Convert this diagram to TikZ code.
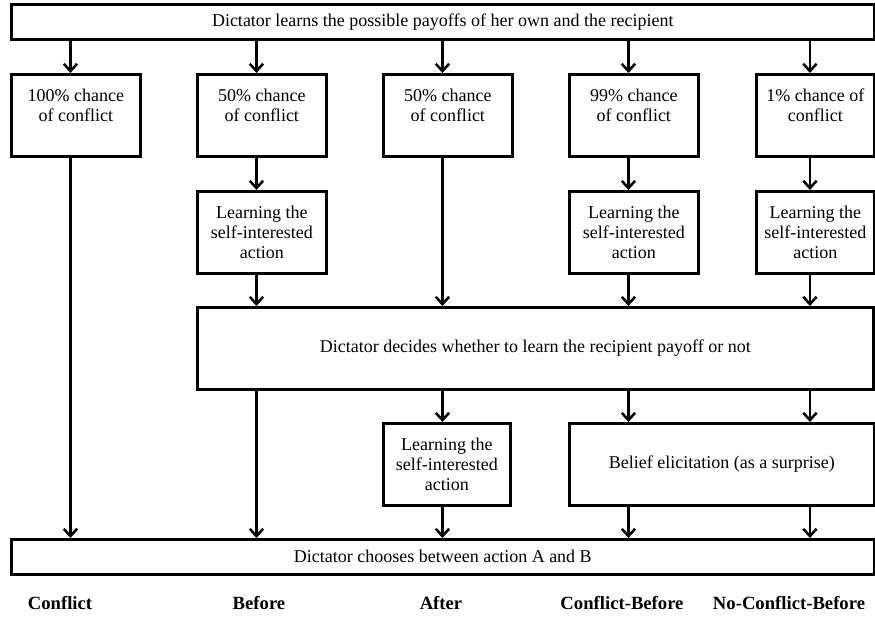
\documentclass[tikz,border=0pt]{standalone}
\usepackage{fontspec}
\setmainfont{Liberation Serif}
\usetikzlibrary{arrows.meta,positioning}

\begin{document}
\begin{tikzpicture}[
    x=0.75pt, y=-0.75pt,
    box/.style={
        draw,
        line width=1.9pt,
        anchor=north west,
        minimum width=96.75pt,
        minimum height=61.5pt,
        inner sep=1pt,
        align=center,
        font=\fontsize{13.5}{15}\selectfont
    },
    wide/.style={box, minimum height=26.25pt},
    flow/.style={line width=1.9pt, -{Straight Barb[length=5.5pt,width=10pt,line width=1.9pt]},
        transform canvas={xshift=-4pt}},
    treatment/.style={font=\fontsize{14}{16}\selectfont\bfseries}
]
    \useasboundingbox (0,0) rectangle (875,617);

    % stage 1: payoffs
    \node[wide, minimum width=647.25pt] (learn-payoffs) at (10,3)
        {Dictator learns the possible payoffs of her own and the recipient};

    % stage 2: chance of conflict
    \node[box] (chance-conflict) at (10,73) {100\% chance\\of conflict\\\mbox{}};
    \node[box] (chance-before) at (196,73) {50\% chance\\of conflict\\\mbox{}};
    \node[box] (chance-after) at (382,73) {50\% chance\\of conflict\\\mbox{}};
    \node[box] (chance-cb) at (568,73) {99\% chance\\of conflict\\\mbox{}};
    \node[box, minimum width=88.5pt] (chance-ncb) at (755,73) {1\% chance of\\conflict\\\mbox{}};

    % stage 3: self-interested action first
    \node[box] (learn-before) at (196,190) {Learning the\\self-interested\\action};
    \node[box] (learn-cb) at (568,190) {Learning the\\self-interested\\action};
    \node[box, minimum width=88.5pt] (learn-ncb) at (755,190) {Learning the\\self-interested\\action};

    % stage 4: decision
    \node[box, minimum width=507pt] (decide) at (196,306)
        {Dictator decides whether to learn the recipient payoff or not};

    % stage 5
    \node[box, minimum width=95.25pt] (learn-after) at (382,422) {Learning the\\self-interested\\action};
    \node[box, minimum width=228.75pt] (belief) at (568,422) {Belief elicitation (as a surprise)};

    % stage 6: choice
    \node[wide, minimum width=647.25pt] (choose) at (10,538)
        {Dictator chooses between action A and B};

    % treatment names
    \node[treatment] (lab-conflict) at (60,603) {Conflict};
    \node[treatment] (lab-before) at (259,603) {Before};
    \node[treatment] (lab-after) at (441,603) {After};
    \node[treatment] (lab-cb) at (622,603) {Conflict-Before};
    \node[treatment] (lab-ncb) at (789,603) {No-Conflict-Before};

    \draw[flow] (learn-payoffs.south -| chance-conflict) -- (chance-conflict.north);
    \draw[flow] (learn-payoffs.south -| chance-before) -- (chance-before.north);
    \draw[flow] (learn-payoffs.south -| chance-after) -- (chance-after.north);
    \draw[flow] (learn-payoffs.south -| chance-cb) -- (chance-cb.north);
    \draw[flow] (learn-payoffs.south -| chance-ncb) -- (chance-ncb.north);

    \draw[flow] (chance-conflict.south) -- (choose.north -| chance-conflict);

    \draw[flow] (chance-before.south) -- (learn-before.north);
    \draw[flow] (learn-before.south) -- (decide.north -| learn-before);
    \draw[flow] (decide.south -| learn-before) -- (choose.north -| learn-before);

    \draw[flow] (chance-after.south) -- (decide.north -| chance-after);
    \draw[flow] (decide.south -| chance-after) -- (learn-after.north -| chance-after);
    \draw[flow] (learn-after.south -| chance-after) -- (choose.north -| chance-after);

    \draw[flow] (chance-cb.south) -- (learn-cb.north);
    \draw[flow] (learn-cb.south) -- (decide.north -| learn-cb);
    \draw[flow] (decide.south -| learn-cb) -- (belief.north -| learn-cb);
    \draw[flow] (belief.south -| learn-cb) -- (choose.north -| learn-cb);

    \draw[flow] (chance-ncb.south) -- (learn-ncb.north);
    \draw[flow] (learn-ncb.south) -- (decide.north -| learn-ncb);
    \draw[flow] (decide.south -| learn-ncb) -- (belief.north -| learn-ncb);
    \draw[flow] (belief.south -| learn-ncb) -- (choose.north -| learn-ncb);
\end{tikzpicture}
\end{document}
